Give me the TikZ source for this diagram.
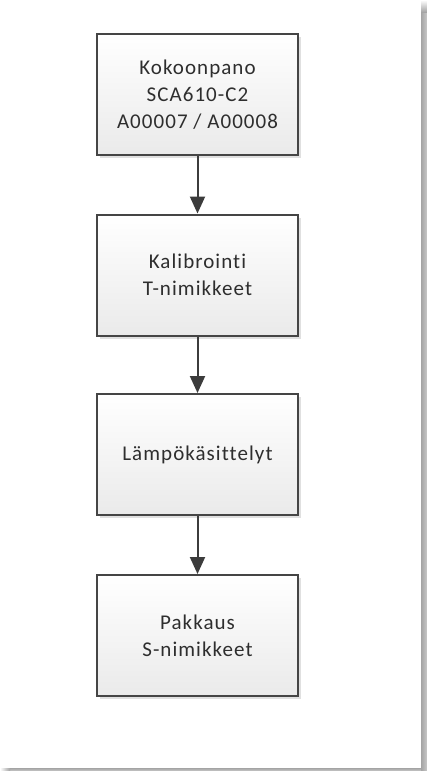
\documentclass[tikz,border=0pt]{standalone}
\usepackage{fontspec}
\setmainfont{Carlito}[Ligatures=NoCommon,LetterSpace=5]
\usetikzlibrary{arrows.meta,shadows}
\definecolor{boxline}{HTML}{454545}
\definecolor{arrowline}{HTML}{3C3C3C}
\definecolor{textcol}{HTML}{2E2E2E}
\definecolor{boxbottom}{HTML}{EAEAEA}
\definecolor{pageshadow}{HTML}{A4A4A4}
\begin{document}
\begin{tikzpicture}[x=1pt,y=-1pt,
  stepbox/.style={draw=boxline, line width=2pt, top color=white, bottom color=boxbottom,
    minimum width=201pt, minimum height=121pt, align=center, text=textcol,
    font=\fontsize{21}{27}\selectfont,
    drop shadow={shadow xshift=3pt, shadow yshift=-3pt, fill=black!20, opacity=.6}},
  flow/.style={draw=arrowline, line width=2pt, -{Triangle[length=17pt,width=15pt]}}]
\useasboundingbox (0,0) rectangle (427,771);
\fill[white] (0,0) rectangle (427,771);
% page shadow
\shade[left color=pageshadow, right color=pageshadow!60] (421,12) rectangle (427,771);
\shade[top color=white, bottom color=pageshadow] (421,0) rectangle (427,12);
\shade[top color=pageshadow, bottom color=pageshadow!60] (10,768) rectangle (421,771);
\shade[left color=white, right color=pageshadow] (0,768) rectangle (10,771);
\node[stepbox] (k1) at (197.5,94.5) {Kokoonpano\\SCA610-C2\\A00007 / A00008};
\node[stepbox] (k2) at (197.5,275) {Kalibrointi\\T-nimikkeet};
\node[stepbox] (k3) at (197.5,454.5) {Lämpökäsittelyt};
\node[stepbox] (k4) at (197.5,635.5) {Pakkaus\\S-nimikkeet};
\draw[flow] (k1) -- (k2);
\draw[flow] (k2) -- (k3);
\draw[flow] (k3) -- (k4);
\end{tikzpicture}
\end{document}
